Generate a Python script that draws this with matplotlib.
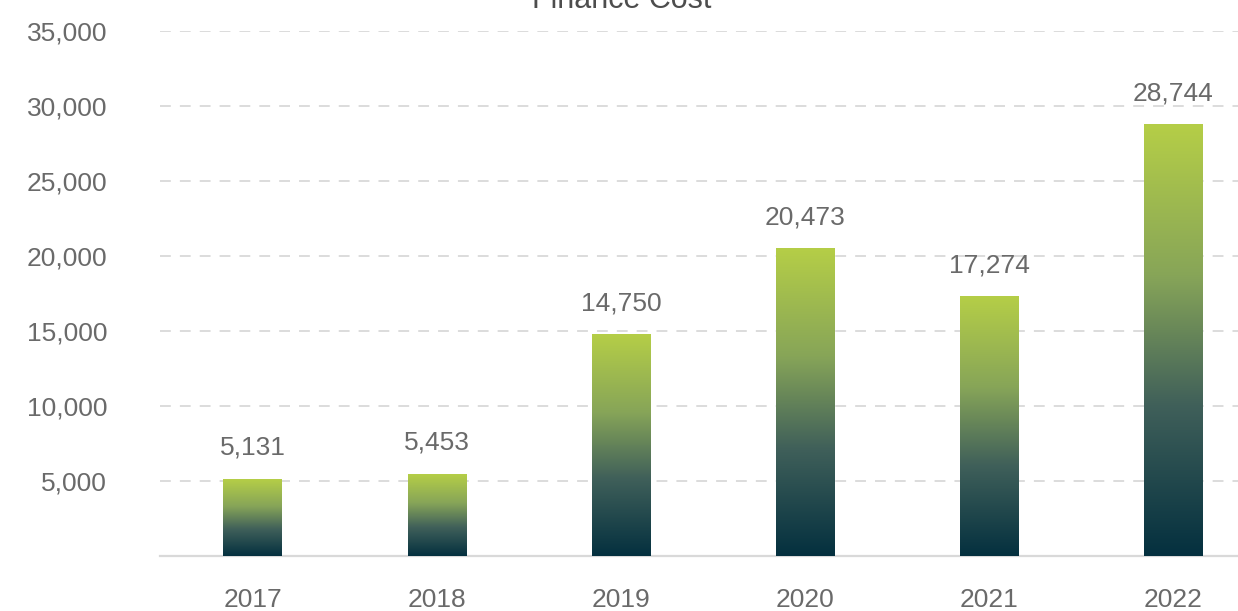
import matplotlib
matplotlib.use("Agg")
import matplotlib.pyplot as plt
import numpy as np
from matplotlib.colors import LinearSegmentedColormap
from matplotlib.ticker import FuncFormatter

years = ["2017", "2018", "2019", "2020", "2021", "2022"]
finance_cost = [5131, 5453, 14750, 20473, 17274, 28744]
y_ticks = [5000, 10000, 15000, 20000, 25000, 30000, 35000]

plt.rcParams["font.family"] = ["Liberation Sans", "DejaVu Sans"]
text_color = "#6a6a6a"
grid_color = "#d9d9d9"

cmap = LinearSegmentedColormap.from_list(
    "teal_lime",
    [(0.0, "#04303f"), (0.35, "#40605a"), (0.65, "#87a558"), (1.0, "#b5ce47")],
)

fig = plt.figure(figsize=(12.38, 6.11), dpi=100)
ax = fig.add_axes([160 / 1238, 55 / 611, 1 - 160 / 1238, 525 / 611])

x = np.arange(len(years))
width = 0.32

gradient = np.linspace(0, 1, 256).reshape(-1, 1)
bars = ax.bar(x, finance_cost, width=width, color="none", edgecolor="none", zorder=3)
for rect, val in zip(bars, finance_cost):
    x0 = rect.get_x()
    ax.imshow(gradient, extent=(x0, x0 + width, 0, val), origin="lower",
              cmap=cmap, aspect="auto", zorder=3, interpolation="bicubic")
    ax.annotate(f"{val:,}", (x0 + width / 2, val), xytext=(0, 14),
                textcoords="offset points", ha="center", va="bottom",
                fontsize=19, color=text_color)

ax.set_xlim(-0.505, 5.353)
ax.set_ylim(0, 35000)

ax.set_yticks(y_ticks)
ax.yaxis.set_major_formatter(FuncFormatter(lambda v, p: f"{int(v):,}"))
ax.set_xticks(x)
ax.set_xticklabels(years)
ax.tick_params(axis="both", length=0, labelsize=19, labelcolor=text_color)
ax.tick_params(axis="y", pad=38)
ax.tick_params(axis="x", pad=23)

ax.grid(axis="y", color=grid_color, linestyle=(0, (6, 5)), linewidth=1.3, zorder=0)
for s in ["top", "right", "left"]:
    ax.spines[s].set_visible(False)
ax.spines["bottom"].set_color(grid_color)
ax.spines["bottom"].set_linewidth(1.6)

fig.text(622 / 1238, 1 - 8 / 611, "Finance Cost", ha="center", va="baseline",
         fontsize=22, color="#4d4d4d")

fig.savefig("out.png", dpi=100)
